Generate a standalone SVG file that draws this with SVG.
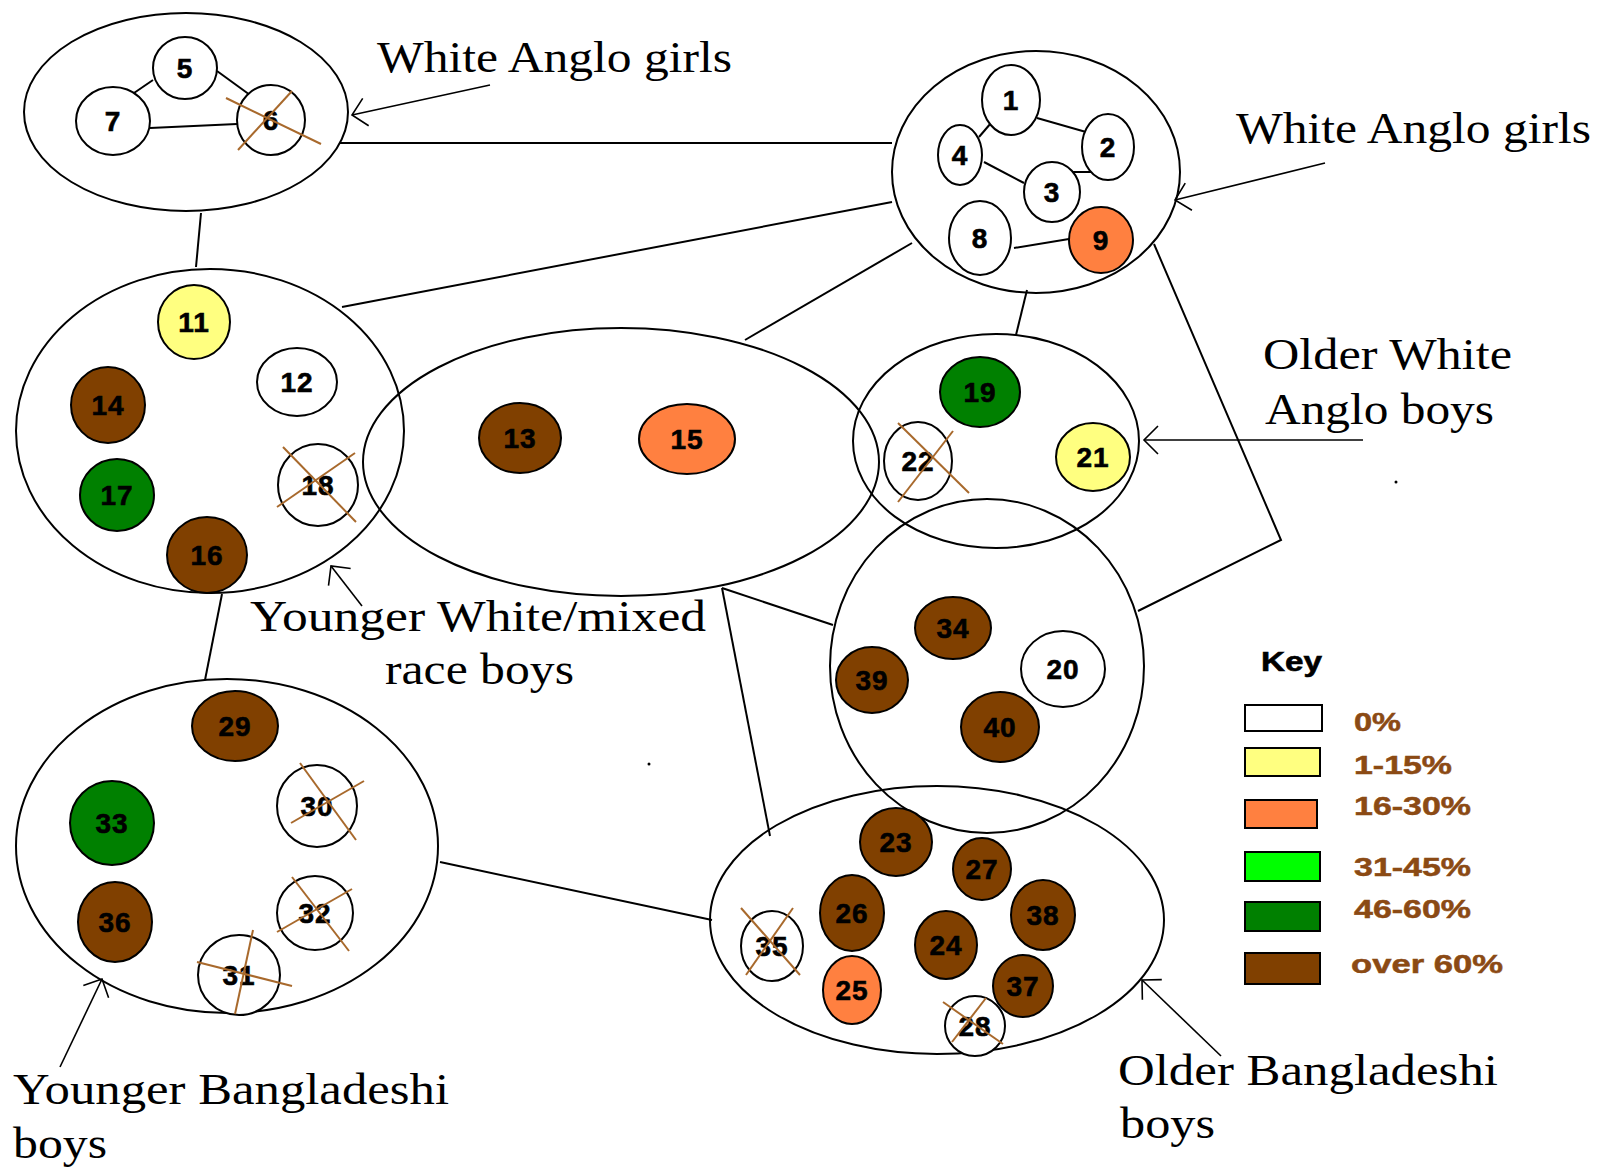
<svg xmlns="http://www.w3.org/2000/svg" width="1597" height="1170" viewBox="0 0 1597 1170">
<style>
.grp{fill:none;stroke:#000;stroke-width:2}
.nd{stroke:#000;stroke-width:2}
.w{fill:#fff}.y{fill:#ffff80}.o{fill:#ff8040}.g{fill:#008000}.lg{fill:#00ff00}.b{fill:#804000}
.lbl{font-family:"Liberation Sans",Arial,sans-serif;font-weight:bold;font-size:28px;fill:#000;stroke:#000;stroke-width:0.6px;text-anchor:middle;letter-spacing:1px}
.x{stroke:#a8692c;stroke-width:2}
.cap{font-family:"Liberation Serif","Times New Roman",serif;font-size:44px;fill:#000}
.key{font-family:"Liberation Sans",Arial,sans-serif;font-weight:bold;font-size:26px;fill:#8b4a14;stroke:#8b4a14;stroke-width:0.5px}
.edge{stroke:#000;stroke-width:2;fill:none}
.ann{stroke:#000;stroke-width:1.6;fill:none}
</style>
<defs>
<marker id="open" viewBox="-16 -16 18 32" refX="0" refY="0" markerWidth="18" markerHeight="32" markerUnits="userSpaceOnUse" orient="auto" overflow="visible">
<path d="M-14,-14 L0,0 L-14,14" fill="none" stroke="#000" stroke-width="1.6"/>
</marker>
</defs>
<rect width="1597" height="1170" fill="#fff"/>

<g id="connectors">
<line class="edge" x1="339" y1="143" x2="892" y2="143"/>
<line class="edge" x1="201" y1="213" x2="196" y2="267"/>
<line class="edge" x1="342" y1="307" x2="892" y2="202"/>
<line class="edge" x1="745" y1="340" x2="912" y2="243"/>
<line class="edge" x1="1027" y1="290" x2="1016" y2="335"/>
<polyline class="edge" points="1154,244 1281,540 1138,611"/>
<line class="edge" x1="222" y1="594" x2="205" y2="680"/>
<line class="edge" x1="722" y1="588" x2="833" y2="625"/>
<line class="edge" x1="722" y1="588" x2="770" y2="836"/>
<line class="edge" x1="440" y1="862" x2="712" y2="920"/>
<line class="edge" x1="153" y1="80" x2="134" y2="93"/>
<line class="edge" x1="217" y1="71" x2="250" y2="95"/>
<line class="edge" x1="150" y1="128" x2="237" y2="124"/>
<line class="edge" x1="1037" y1="118" x2="1086" y2="132"/>
<line class="edge" x1="979" y1="137" x2="991" y2="123"/>
<line class="edge" x1="984" y1="162" x2="1024" y2="183"/>
<line class="edge" x1="1073" y1="172" x2="1091" y2="172"/>
<line class="edge" x1="1014" y1="248" x2="1069" y2="239"/>
<line class="ann" x1="490" y1="85" x2="352" y2="115" marker-end="url(#open)"/>
<line class="ann" x1="1325" y1="163" x2="1175" y2="200" marker-end="url(#open)"/>
<line class="ann" x1="1363" y1="440" x2="1144" y2="440" marker-end="url(#open)"/>
<line class="ann" x1="362" y1="606" x2="331" y2="566" marker-end="url(#open)"/>
<line class="ann" x1="60" y1="1067" x2="102" y2="979" marker-end="url(#open)"/>
<line class="ann" x1="1221" y1="1056" x2="1142" y2="980" marker-end="url(#open)"/>
</g>

<g id="grp-girls-a"><ellipse class="grp" cx="186" cy="112" rx="162" ry="99"/></g>
<g id="grp-girls-b"><ellipse class="grp" cx="1036" cy="172" rx="144" ry="121"/></g>
<g id="grp-younger-white-a"><ellipse class="grp" cx="210" cy="431" rx="194" ry="162"/></g>
<g id="grp-younger-white-b"><ellipse class="grp" cx="621" cy="462" rx="258" ry="134"/></g>
<g id="grp-older-white"><ellipse class="grp" cx="996" cy="441" rx="143" ry="107"/></g>
<g id="grp-mixed"><ellipse class="grp" cx="987" cy="666" rx="157" ry="167"/></g>
<g id="grp-older-bangla"><ellipse class="grp" cx="937" cy="920" rx="227" ry="134"/></g>
<g id="grp-younger-bangla"><ellipse class="grp" cx="227" cy="846" rx="211" ry="167"/></g>

<g id="n5"><ellipse class="nd w" cx="185" cy="68" rx="32" ry="31"/><text class="lbl" x="185" y="78">5</text></g>
<g id="n7"><ellipse class="nd w" cx="113" cy="121" rx="37" ry="34"/><text class="lbl" x="113" y="131">7</text></g>
<g id="n6"><ellipse class="nd w" cx="271" cy="120" rx="34" ry="35"/><text class="lbl" x="271" y="130">6</text><line class="x" x1="226" y1="98" x2="321" y2="144"/><line class="x" x1="292" y1="91" x2="238" y2="150"/></g>
<g id="n1"><ellipse class="nd w" cx="1011" cy="100" rx="29" ry="35"/><text class="lbl" x="1011" y="110">1</text></g>
<g id="n2"><ellipse class="nd w" cx="1108" cy="147" rx="26" ry="33"/><text class="lbl" x="1108" y="157">2</text></g>
<g id="n4"><ellipse class="nd w" cx="960" cy="155" rx="22" ry="30"/><text class="lbl" x="960" y="165">4</text></g>
<g id="n3"><ellipse class="nd w" cx="1052" cy="192" rx="28" ry="30"/><text class="lbl" x="1052" y="202">3</text></g>
<g id="n8"><ellipse class="nd w" cx="980" cy="238" rx="31" ry="37"/><text class="lbl" x="980" y="248">8</text></g>
<g id="n9"><ellipse class="nd o" cx="1101" cy="240" rx="32" ry="33"/><text class="lbl" x="1101" y="250">9</text></g>
<g id="n11"><ellipse class="nd y" cx="194" cy="322" rx="36" ry="37"/><text class="lbl" x="194" y="332">11</text></g>
<g id="n12"><ellipse class="nd w" cx="297" cy="382" rx="40" ry="34"/><text class="lbl" x="297" y="392">12</text></g>
<g id="n14"><ellipse class="nd b" cx="108" cy="405" rx="37" ry="38"/><text class="lbl" x="108" y="415">14</text></g>
<g id="n17"><ellipse class="nd g" cx="117" cy="495" rx="37" ry="36"/><text class="lbl" x="117" y="505">17</text></g>
<g id="n16"><ellipse class="nd b" cx="207" cy="555" rx="40" ry="38"/><text class="lbl" x="207" y="565">16</text></g>
<g id="n18"><ellipse class="nd w" cx="318" cy="485" rx="40" ry="41"/><text class="lbl" x="318" y="495">18</text><line class="x" x1="283" y1="447" x2="356" y2="522"/><line class="x" x1="355" y1="453" x2="277" y2="507"/></g>
<g id="n13"><ellipse class="nd b" cx="520" cy="438" rx="41" ry="35"/><text class="lbl" x="520" y="448">13</text></g>
<g id="n15"><ellipse class="nd o" cx="687" cy="439" rx="48" ry="35"/><text class="lbl" x="687" y="449">15</text></g>
<g id="n19"><ellipse class="nd g" cx="980" cy="392" rx="40" ry="35"/><text class="lbl" x="980" y="402">19</text></g>
<g id="n21"><ellipse class="nd y" cx="1093" cy="457" rx="37" ry="34"/><text class="lbl" x="1093" y="467">21</text></g>
<g id="n22"><ellipse class="nd w" cx="918" cy="461" rx="34" ry="39"/><text class="lbl" x="918" y="471">22</text><line class="x" x1="898" y1="423" x2="969" y2="493"/><line class="x" x1="953" y1="431" x2="898" y2="502"/></g>
<g id="n34"><ellipse class="nd b" cx="953" cy="628" rx="38" ry="31"/><text class="lbl" x="953" y="638">34</text></g>
<g id="n39"><ellipse class="nd b" cx="872" cy="680" rx="36" ry="33"/><text class="lbl" x="872" y="690">39</text></g>
<g id="n20"><ellipse class="nd w" cx="1063" cy="669" rx="42" ry="38"/><text class="lbl" x="1063" y="679">20</text></g>
<g id="n40"><ellipse class="nd b" cx="1000" cy="727" rx="39" ry="35"/><text class="lbl" x="1000" y="737">40</text></g>
<g id="n23"><ellipse class="nd b" cx="896" cy="842" rx="36" ry="34"/><text class="lbl" x="896" y="852">23</text></g>
<g id="n27"><ellipse class="nd b" cx="982" cy="869" rx="29" ry="31"/><text class="lbl" x="982" y="879">27</text></g>
<g id="n26"><ellipse class="nd b" cx="852" cy="913" rx="32" ry="38"/><text class="lbl" x="852" y="923">26</text></g>
<g id="n38"><ellipse class="nd b" cx="1043" cy="915" rx="32" ry="35"/><text class="lbl" x="1043" y="925">38</text></g>
<g id="n24"><ellipse class="nd b" cx="946" cy="945" rx="31" ry="34"/><text class="lbl" x="946" y="955">24</text></g>
<g id="n35"><ellipse class="nd w" cx="772" cy="946" rx="31" ry="35"/><text class="lbl" x="772" y="956">35</text><line class="x" x1="741" y1="908" x2="800" y2="975"/><line class="x" x1="793" y1="908" x2="746" y2="975"/></g>
<g id="n25"><ellipse class="nd o" cx="852" cy="990" rx="29" ry="34"/><text class="lbl" x="852" y="1000">25</text></g>
<g id="n37"><ellipse class="nd b" cx="1023" cy="986" rx="30" ry="31"/><text class="lbl" x="1023" y="996">37</text></g>
<g id="n28"><ellipse class="nd w" cx="975" cy="1026" rx="30" ry="30"/><text class="lbl" x="975" y="1036">28</text><line class="x" x1="943" y1="1002" x2="1003" y2="1044"/><line class="x" x1="986" y1="998" x2="952" y2="1042"/></g>
<g id="n29"><ellipse class="nd b" cx="235" cy="726" rx="43" ry="35"/><text class="lbl" x="235" y="736">29</text></g>
<g id="n33"><ellipse class="nd g" cx="112" cy="823" rx="42" ry="42"/><text class="lbl" x="112" y="833">33</text></g>
<g id="n36"><ellipse class="nd b" cx="115" cy="922" rx="37" ry="40"/><text class="lbl" x="115" y="932">36</text></g>
<g id="n30"><ellipse class="nd w" cx="317" cy="806" rx="40" ry="41"/><text class="lbl" x="317" y="816">30</text><line class="x" x1="300" y1="763" x2="356" y2="840"/><line class="x" x1="364" y1="781" x2="291" y2="823"/></g>
<g id="n32"><ellipse class="nd w" cx="315" cy="913" rx="38" ry="37"/><text class="lbl" x="315" y="923">32</text><line class="x" x1="292" y1="877" x2="349" y2="951"/><line class="x" x1="352" y1="889" x2="277" y2="932"/></g>
<g id="n31"><ellipse class="nd w" cx="239" cy="975" rx="41" ry="40"/><text class="lbl" x="239" y="985">31</text><line class="x" x1="253" y1="930" x2="235" y2="1014"/><line class="x" x1="197" y1="962" x2="292" y2="986"/></g>

<g id="captions">
<text class="cap" x="377" y="72" textLength="355" lengthAdjust="spacingAndGlyphs">White Anglo girls</text>
<text class="cap" x="1236" y="143" textLength="355" lengthAdjust="spacingAndGlyphs">White Anglo girls</text>
<text class="cap" x="1263" y="369" textLength="249" lengthAdjust="spacingAndGlyphs">Older White</text>
<text class="cap" x="1265" y="424" textLength="229" lengthAdjust="spacingAndGlyphs">Anglo boys</text>
<text class="cap" x="250" y="631" textLength="456" lengthAdjust="spacingAndGlyphs">Younger White/mixed</text>
<text class="cap" x="385" y="684" textLength="189" lengthAdjust="spacingAndGlyphs">race boys</text>
<text class="cap" x="13" y="1104" textLength="436" lengthAdjust="spacingAndGlyphs">Younger Bangladeshi</text>
<text class="cap" x="13" y="1158" textLength="94" lengthAdjust="spacingAndGlyphs">boys</text>
<text class="cap" x="1118" y="1085" textLength="380" lengthAdjust="spacingAndGlyphs">Older Bangladeshi</text>
<text class="cap" x="1120" y="1138" textLength="95" lengthAdjust="spacingAndGlyphs">boys</text>
</g>

<g id="key">
<text x="1261" y="671" font-family="Liberation Sans, Arial, sans-serif" font-weight="bold" font-size="27" fill="#000" stroke="#000" stroke-width="0.6" textLength="61" lengthAdjust="spacingAndGlyphs">Key</text>
<rect class="nd w" x="1245" y="705" width="77" height="26"/>
<rect class="nd y" x="1245" y="748" width="75" height="28"/>
<rect class="nd o" x="1245" y="800" width="72" height="28"/>
<rect class="nd lg" x="1245" y="852" width="75" height="29"/>
<rect class="nd g" x="1245" y="902" width="75" height="29"/>
<rect class="nd b" x="1245" y="953" width="75" height="31"/>
<text class="key" x="1354" y="731" textLength="47" lengthAdjust="spacingAndGlyphs">0%</text>
<text class="key" x="1354" y="774" textLength="98" lengthAdjust="spacingAndGlyphs">1-15%</text>
<text class="key" x="1354" y="815" textLength="117" lengthAdjust="spacingAndGlyphs">16-30%</text>
<text class="key" x="1354" y="876" textLength="117" lengthAdjust="spacingAndGlyphs">31-45%</text>
<text class="key" x="1354" y="918" textLength="117" lengthAdjust="spacingAndGlyphs">46-60%</text>
<text class="key" x="1351" y="973" textLength="152" lengthAdjust="spacingAndGlyphs">over 60%</text>
</g>
<circle cx="1396" cy="482" r="1.5" fill="#000"/>
<circle cx="649" cy="764" r="1.5" fill="#000"/>
</svg>
